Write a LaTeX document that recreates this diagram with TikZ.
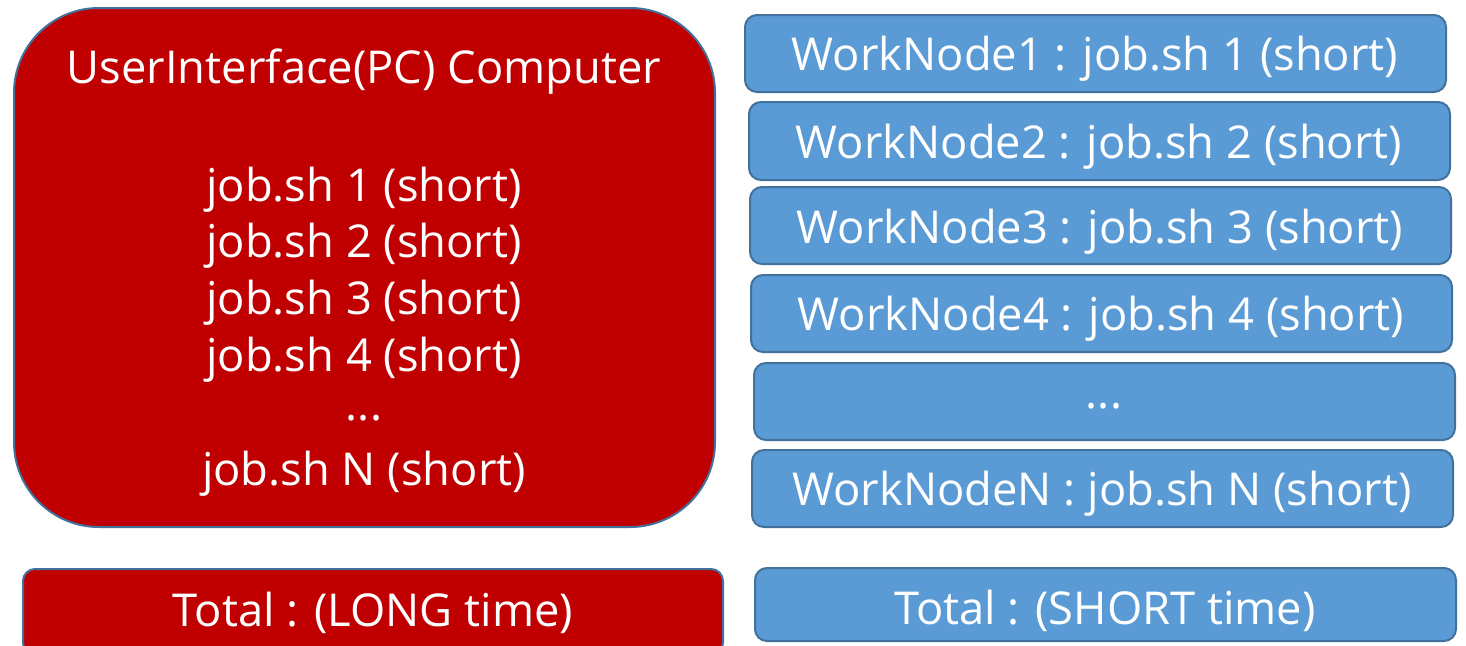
\documentclass[tikz,border=0pt]{standalone}
\usepackage{fontspec}
\setmainfont{Open Sans}
\begin{document}
\begin{tikzpicture}[x=1pt,y=-1pt,
  redbox/.style={draw=edge,line width=2pt,fill=boxred},
  bluebox/.style={draw=edge,line width=2pt,fill=boxblue,rounded corners=12pt},
  lbl/.style={text=white,font=\fontsize{45.3}{57}\selectfont,inner sep=0pt,align=center}]
\definecolor{boxred}{HTML}{C00000}
\definecolor{boxblue}{HTML}{5B9BD5}
\definecolor{edge}{HTML}{41719C}
\useasboundingbox (0,0) rectangle (1466,645);
\clip (0,0) rectangle (1466,645);
% big red box
\draw[redbox,rounded corners=85pt] (14,8) rectangle (715,527);
\node[lbl] (title) at (364,72) {UserInterface(PC) Computer};
\node[lbl] (j1) at (364,190) {job.sh 1 (short)};
\node[lbl] (j2) at (364,246) {job.sh 2 (short)};
\node[lbl] (j3) at (364,303) {job.sh 3 (short)};
\node[lbl] (j4) at (364,360) {job.sh 4 (short)};
\node[lbl] (jd) at (364,418) {...};
\node[lbl] (jn) at (364,474) {job.sh N (short)};
% blue boxes
\draw[bluebox] (745,15) rectangle (1446,92);
\node[lbl] (w1) at (1095,59) {WorkNode1 : job.sh 1 (short)};
\draw[bluebox] (749,102) rectangle (1450,180);
\node[lbl] (w2) at (1099,147) {WorkNode2 : job.sh 2 (short)};
\draw[bluebox] (750,187) rectangle (1451,264);
\node[lbl] (w3) at (1100,232) {WorkNode3 : job.sh 3 (short)};
\draw[bluebox] (751,275) rectangle (1452,352);
\node[lbl] (w4) at (1101,319) {WorkNode4 : job.sh 4 (short)};
\draw[bluebox] (754,363) rectangle (1455,440);
\node[lbl] (wd) at (1104,406) {...};
\draw[bluebox] (752,450) rectangle (1453,527);
\node[lbl] (wn) at (1102,494) {WorkNodeN : job.sh N (short)};
% totals
\draw[redbox,rounded corners=12pt] (23,569) rectangle (723,655);
\node[lbl] (tl) at (373,613) {Total : (LONG time)};
\draw[bluebox] (755,568) rectangle (1456,641);
\node[lbl] (ts) at (1105,611) {Total : (SHORT time)};
\end{tikzpicture}
\end{document}
